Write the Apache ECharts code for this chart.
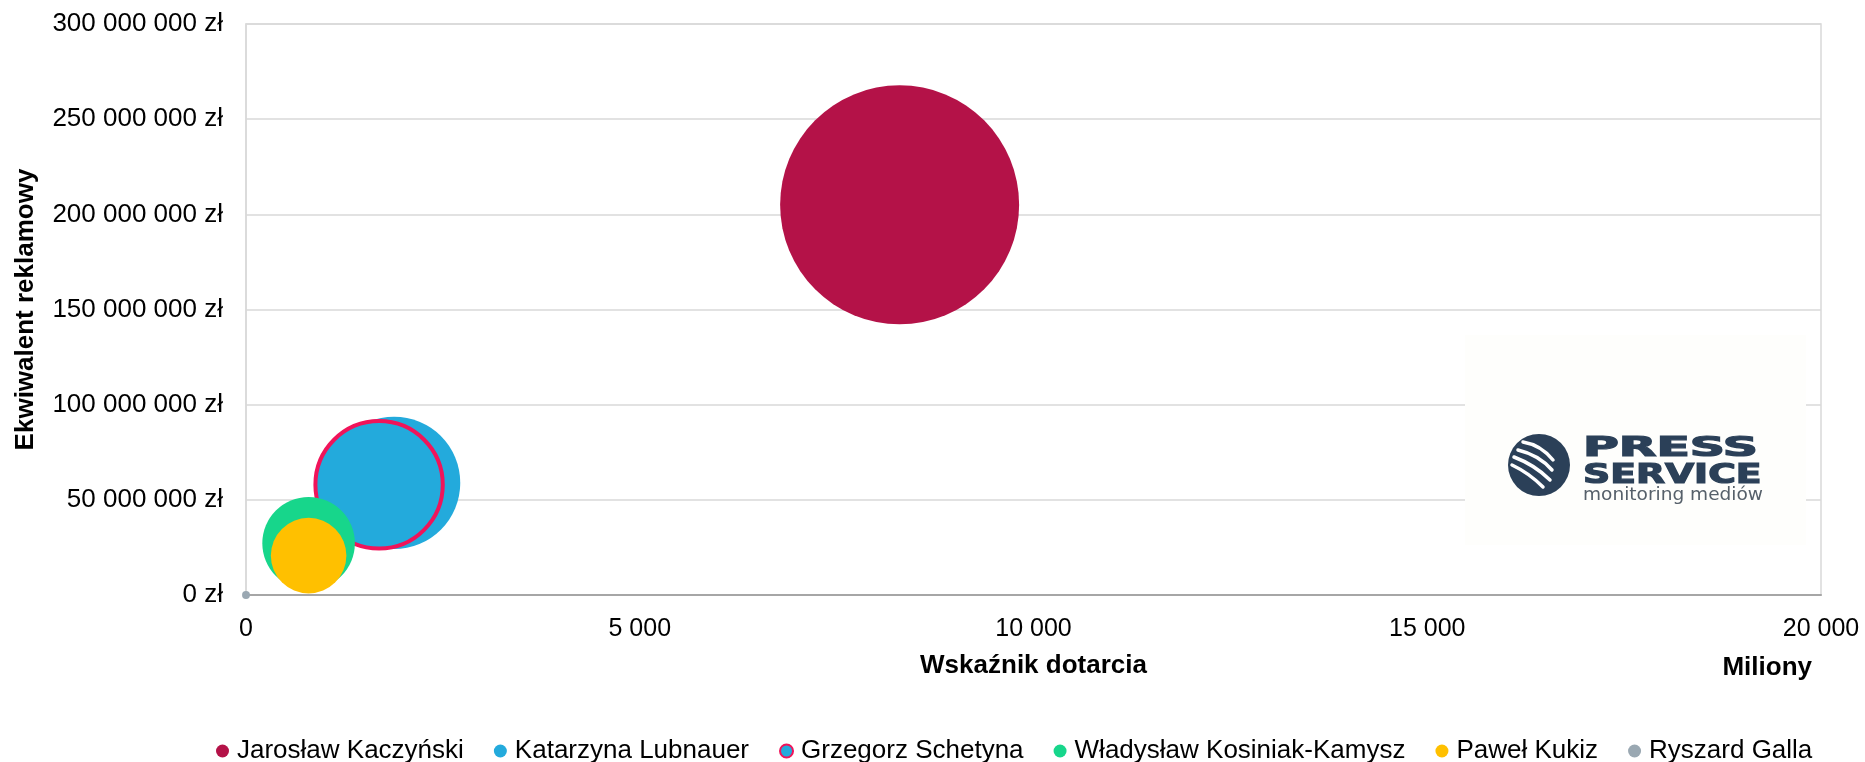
<!DOCTYPE html>
<html>
<head>
<meta charset="utf-8">
<title>Ekwiwalent reklamowy vs wskaźnik dotarcia</title>
<script src="https://cdn.jsdelivr.net/npm/echarts@6/dist/echarts.min.js"></script>
<style>
  html, body { margin: 0; padding: 0; background: #fff; }
  #chart { width: 1865px; height: 762px; }
</style>
</head>
<body>
<div id="chart"></div>
<script>
// dane
const names = [
  'Jarosław Kaczyński',
  'Katarzyna Lubnauer',
  'Grzegorz Schetyna',
  'Władysław Kosiniak-Kamysz',
  'Paweł Kukiz',
  'Ryszard Galla'
]
const reach = [8300, 1880, 1690, 795, 795, 0] // wskaźnik dotarcia, miliony
const adValue = [205000000, 58900000, 57900000, 27200000, 20700000, 0] // zł
const bubbleSize = [100, 30.7, 28.4, 15.0, 10.0, 0.11]
const colors = ['#B41248', '#23AADC', '#23AADC', '#17D68B', '#FFC000', '#9AA8B2']

const FONT = '"Liberation Sans", Arial, sans-serif'
const MAX_DIAM = 239
const maxSize = Math.max(...bubbleSize)

function fmt(v) {
  return String(Math.round(v)).replace(/\B(?=(\d{3})+(?!\d))/g, ' ')
}

const chart = echarts.init(document.getElementById('chart'))

const series = names.map((name, i) => {
  const s = {
    name: name,
    type: 'scatter',
    data: [[reach[i], adValue[i], bubbleSize[i]]],
    symbolSize: (d) => MAX_DIAM * Math.sqrt(d[2] / maxSize),
    itemStyle: { color: colors[i], opacity: 1 },
    emphasis: { disabled: true }
  }
  // Schetyna - obramowanie
  if (i === 2) {
    s.itemStyle.borderColor = '#F0145A'
    s.itemStyle.borderWidth = 4
  }
  return s
})

// paski na kuli logo
const cx = 1539
const cy = 465
const stripes = [
  [[-16, -23], [2, -20], [14, -5]],
  [[-21, -15], [0, -10], [13, 5]],
  [[-25, -8], [-4, 0], [11, 15]],
  [[-27, 0], [-10, 8], [4, 22]]
].map((p) => ({
  type: 'bezierCurve',
  z: 101,
  shape: {
    x1: cx + p[0][0], y1: cy + p[0][1],
    cpx1: cx + p[1][0], cpy1: cy + p[1][1],
    x2: cx + p[2][0], y2: cy + p[2][1]
  },
  style: { stroke: '#fff', lineWidth: 3.5, fill: null, lineCap: 'round' }
}))

const option = {
  backgroundColor: '#fff',
  animation: false,
  textStyle: { fontFamily: FONT },
  grid: {
    left: 246,
    right: 44,
    top: 24,
    bottom: 167,
    show: true,
    borderColor: '#D9D9D9',
    borderWidth: 1.5
  },
  legend: {
    data: names,
    left: 211,
    top: 733,
    icon: 'circle',
    itemWidth: 13,
    itemHeight: 13,
    itemGap: 30,
    textStyle: { fontSize: 26, color: '#000', fontFamily: FONT, padding: [0, 0, 0, 3] }
  },
  xAxis: {
    type: 'value',
    min: 0,
    max: 20000,
    interval: 5000,
    name: 'Wskaźnik dotarcia',
    nameLocation: 'middle',
    nameGap: 58,
    nameTextStyle: { fontSize: 26, fontWeight: 'bold', color: '#000', fontFamily: FONT },
    axisLine: { show: true, lineStyle: { color: '#A6A6A6', width: 2 } },
    axisTick: { show: false },
    splitLine: { show: false },
    axisLabel: {
      fontSize: 25,
      color: '#000',
      margin: 22,
      formatter: (v) => fmt(v)
    }
  },
  yAxis: {
    type: 'value',
    min: 0,
    max: 300000000,
    interval: 50000000,
    name: 'Ekwiwalent reklamowy',
    nameLocation: 'middle',
    nameGap: 207,
    nameTextStyle: { fontSize: 26, fontWeight: 'bold', color: '#000', fontFamily: FONT },
    axisLine: { show: true, lineStyle: { color: '#D9D9D9', width: 1.5 } },
    axisTick: { show: false },
    splitLine: { show: true, lineStyle: { color: '#D9D9D9', width: 1.5 } },
    axisLabel: {
      fontSize: 26,
      color: '#000',
      margin: 23,
      formatter: (v) => fmt(v) + ' zł'
    }
  },
  graphic: [
    {
      type: 'text',
      right: 53,
      top: 655,
      style: { text: 'Miliony', fontSize: 26, fontWeight: 'bold', fill: '#000', fontFamily: FONT }
    },
    // logo Press Service
    {
      type: 'rect',
      z: 100,
      shape: { x: 1465, y: 335, width: 341, height: 210 },
      style: { fill: '#FEFEFC' }
    },
    {
      type: 'circle',
      z: 100,
      shape: { cx: cx, cy: cy, r: 31 },
      style: { fill: '#2B4058' }
    },
    ...stripes,
    {
      type: 'text',
      z: 100,
      x: 1583,
      y: 436,
      scaleX: 1.88,
      style: {
        text: 'PRESS', fontSize: 26, fontWeight: 'bold', fill: '#2B4058',
        stroke: '#2B4058', lineWidth: 1.2, fontFamily: '"DejaVu Sans"'
      }
    },
    {
      type: 'text',
      z: 100,
      x: 1583,
      y: 463,
      scaleX: 1.45,
      style: {
        text: 'SERVICE', fontSize: 26, fontWeight: 'bold', fill: '#2B4058',
        stroke: '#2B4058', lineWidth: 1.2, fontFamily: '"DejaVu Sans"'
      }
    },
    {
      type: 'text',
      z: 100,
      x: 1583,
      y: 486,
      scaleX: 1.03,
      style: { text: 'monitoring mediów', fontSize: 18, fill: '#56606A', fontFamily: '"DejaVu Sans"' }
    }
  ],
  series: series
}

chart.setOption(option)
</script>
</body>
</html>
